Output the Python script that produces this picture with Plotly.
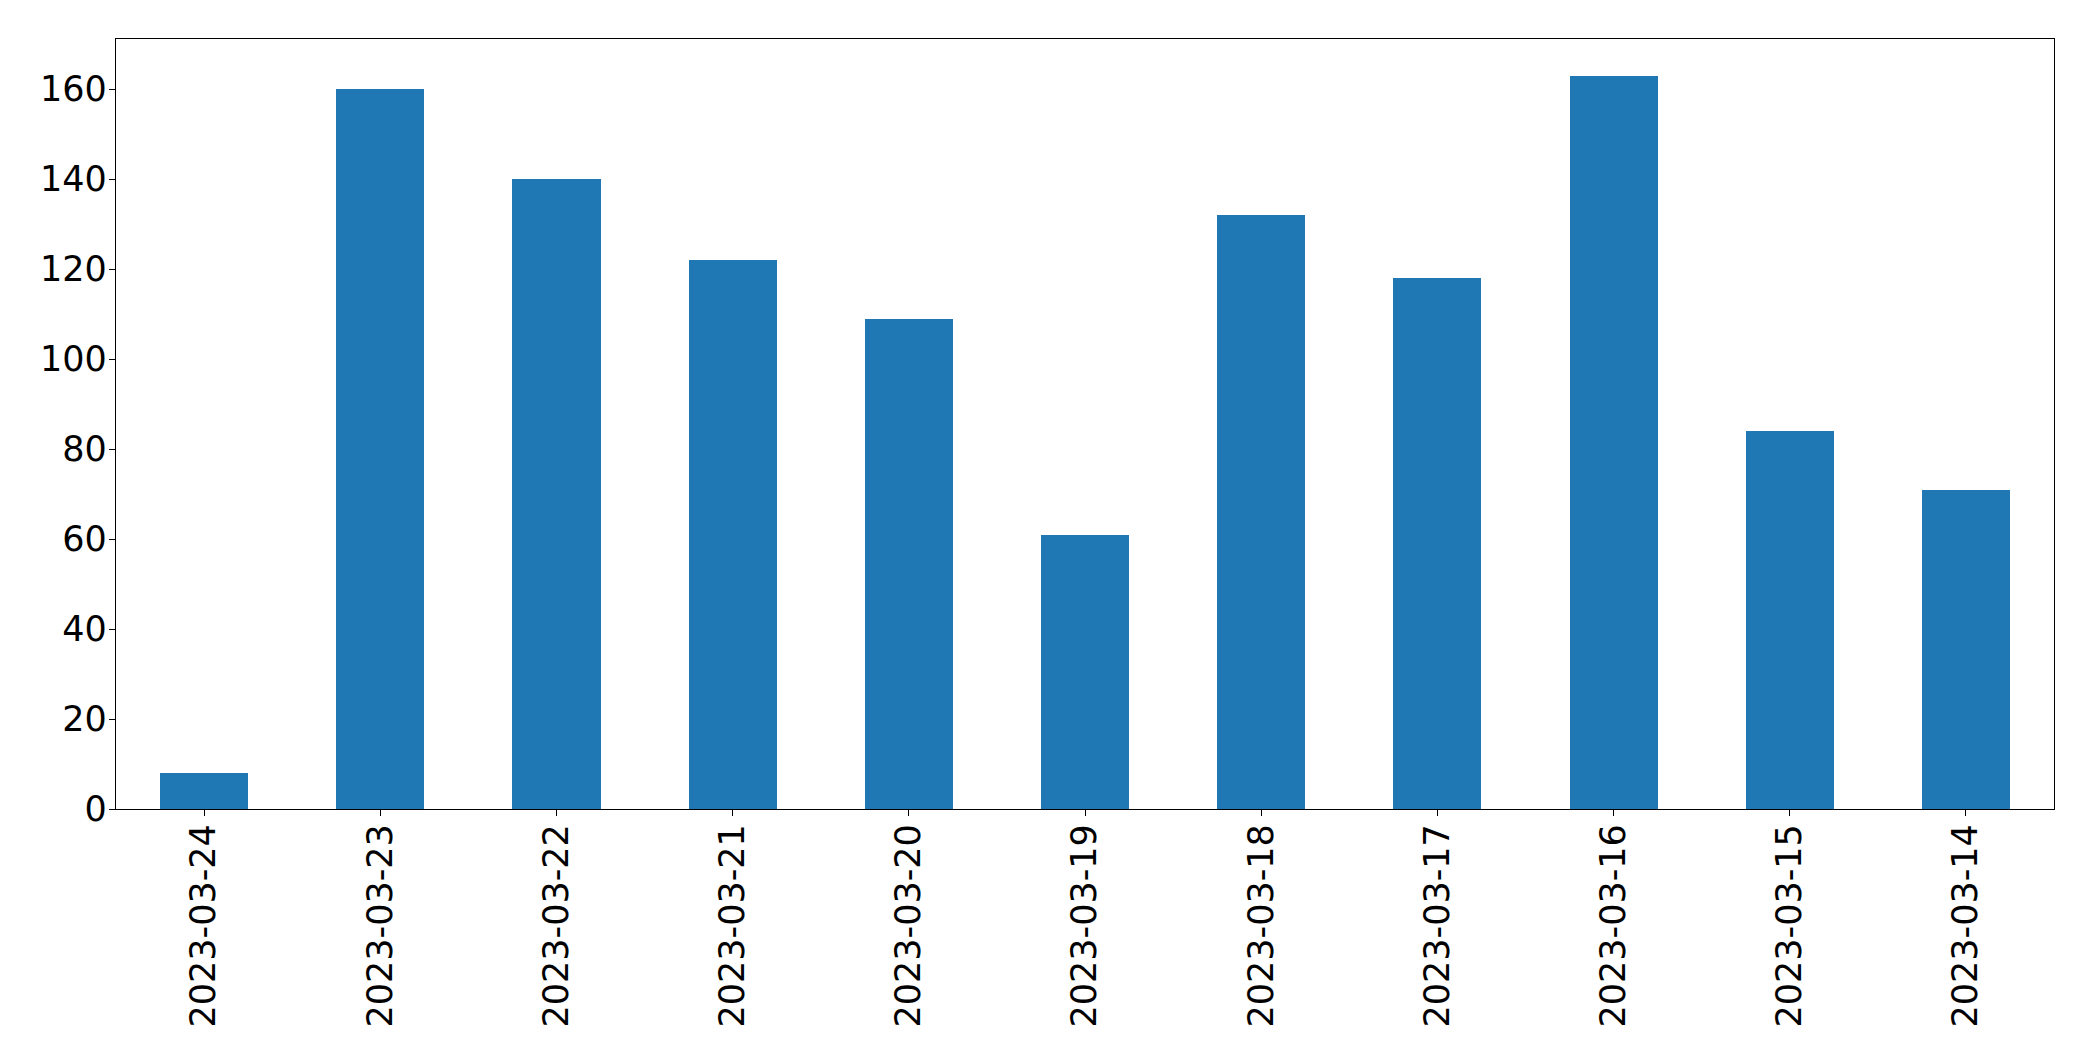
import plotly.graph_objects as go

dates = ["2023-03-24", "2023-03-23", "2023-03-22", "2023-03-21", "2023-03-20", "2023-03-19",
         "2023-03-18", "2023-03-17", "2023-03-16", "2023-03-15", "2023-03-14"]
counts = [8, 160, 140, 122, 109, 61, 132, 118, 163, 84, 71]
y_ticks = [0, 20, 40, 60, 80, 100, 120, 140, 160]

fig = go.Figure(go.Bar(x=dates, y=counts, width=0.5, marker=dict(color="#1f77b4", line=dict(width=0))))

fig.update_layout(
    width=2093, height=1061,
    margin=dict(l=116, r=39, t=39, b=252, pad=0),
    paper_bgcolor="white", plot_bgcolor="white",
    font=dict(family="DejaVu Sans", size=35, color="black"),
    showlegend=False,
    bargap=0,
)
fig.update_xaxes(
    type="category", range=[-0.5, len(dates) - 0.5],
    tickangle=-90, ticks="outside", ticklen=6, tickwidth=1, tickcolor="black",
    ticklabelstandoff=-6,
    showline=True, mirror=True, linecolor="black", linewidth=1.3,
    showgrid=False, zeroline=False,
)
fig.update_yaxes(
    range=[0, max(counts) * 1.05],
    tickvals=y_ticks, ticks="outside", ticklen=6, tickwidth=1, tickcolor="black",
    ticklabelstandoff=-5,
    showline=True, mirror=True, linecolor="black", linewidth=1.3,
    showgrid=False, zeroline=False,
)

fig.write_html("out.html")
